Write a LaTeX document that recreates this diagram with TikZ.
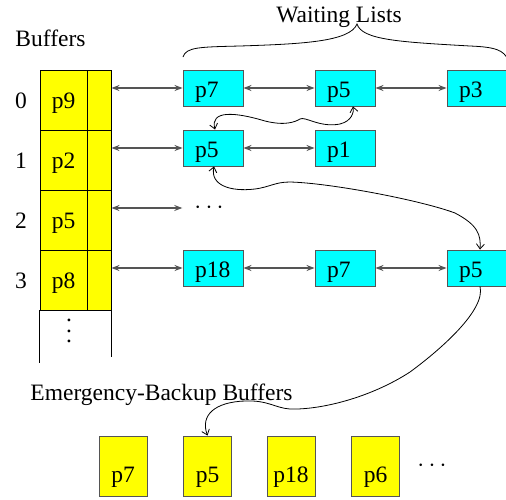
\documentclass[tikz,border=0pt]{standalone}
\usepackage{fontspec}
\setmainfont{Liberation Serif}
\usepackage{tikz}
\usetikzlibrary{arrows.meta, positioning}
\definecolor{rim}{HTML}{555555}
\definecolor{aqua}{HTML}{00FFFF}
\definecolor{lemon}{HTML}{FFFF00}
\newcommand\tallvdots{\vbox{\baselineskip=10.5pt \lineskiplimit=0pt \hbox{.}\hbox{.}\hbox{.}}}
\tikzset{
    slot/.style={rectangle, draw=black, fill=lemon, line width=0.9pt, minimum height=60pt, inner sep=0pt, text height=21pt, text depth=5pt},
    page/.style={rectangle, draw=rim, fill=aqua, line width=0.9pt, minimum height=36pt, text width=36pt, inner xsep=12pt, inner ysep=0pt, align=left, text height=23pt, text depth=5pt},
    spare/.style={rectangle, draw=rim, fill=lemon, line width=0.9pt, minimum width=48pt, minimum height=60pt, inner sep=0pt, text height=37pt, text depth=5pt},
    idx/.style={inner sep=0pt, text height=21pt, text depth=5pt},
    link/.style={{Stealth[length=8pt, width=6pt]}-{Stealth[length=8pt, width=6pt]}, line width=1.2pt, draw=rim},
    hop/.style={>={Straight Barb[length=5pt, width=8pt]}, line width=0.8pt},
}

\begin{document}
\begin{tikzpicture}[x=1pt, y=-1pt, font=\fontsize{23.5}{28}\selectfont]
    \useasboundingbox (0,0) rectangle (506,499);
    % buffer table
    \node at (50.5,38) {Buffers};
    \node[slot, minimum width=47pt] (b0) at (63.5,100) {p9};
    \node[slot, minimum width=47pt] (b1) at (63.5,160) {p2};
    \node[slot, minimum width=47pt] (b2) at (63.5,220) {p5};
    \node[slot, minimum width=47pt] (b3) at (63.5,280) {p8};
    \node[slot, minimum width=24pt] (b0r) at (99,100) {};
    \node[slot, minimum width=24pt] (b1r) at (99,160) {};
    \node[slot, minimum width=24pt] (b2r) at (99,220) {};
    \node[slot, minimum width=24pt] (b3r) at (99,280) {};
    \draw[line width=0.9pt] (b3.south west) -- ++(0,53);
    \draw[line width=0.9pt] (b3r.south east) -- ++(0,47);
    \node[inner sep=0pt] (more) at (69,331) {\tallvdots};
    \node[idx] (n0) at (21,100) {0};
    \node[idx] (n1) at (21,160) {1};
    \node[idx] (n2) at (21,220) {2};
    \node[idx] (n3) at (21,280) {3};
    % waiting lists
    \node[anchor=base] (wl) at (339,22) {Waiting Lists};
    \draw[line width=0.8pt] (183,57) .. controls (186,47) and (200,47) .. (240,46) .. controls (300,44) and (350,42) .. (357,24) .. controls (362,40) and (400,42) .. (470,46) .. controls (495,47) and (504,50) .. (508,60);
    \node[page] (w00) at (213,88) {p7};
    \node[page] (w01) at (345,88) {p5};
    \node[page] (w02) at (477,88) {p3};
    \node[page] (w10) at (213,148) {p5};
    \node[page] (w11) at (345,148) {p1};
    \node[inner sep=0pt, text height=11.8pt, text depth=0pt] (d2) at (209,208) {$\cdots$};
    \node[page] (w30) at (213,268) {p18};
    \node[page] (w31) at (345,268) {p7};
    \node[page] (w32) at (477,268) {p5};
    \draw[link] (b0r.east |- w00) -- (w00);
    \draw[link] (w00) -- (w01);
    \draw[link] (w01) -- (w02);
    \draw[link] (b1r.east |- w10) -- (w10);
    \draw[link] (w10) -- (w11);
    \draw[link, shorten >=12pt] (b2r.east |- d2) -- (d2.west);
    \draw[link] (b3r.east |- w30) -- (w30);
    \draw[link] (w30) -- (w31);
    \draw[link] (w31) -- (w32);
    % emergency-backup buffers
    \node[anchor=base] (eb) at (161.5,400) {Emergency-Backup Buffers};
    \node[spare] (e0) at (123,466) {p7};
    \node[spare] (e1) at (207.5,466) {p5};
    \node[spare] (e2) at (291,466) {p18};
    \node[spare] (e3) at (375.5,466) {p6};
    \node[inner sep=0pt, text height=11.8pt, text depth=0pt] (e4) at (432,466) {$\cdots$};
    % same page in several lists
    \draw[hop, <->] ([xshift=2pt]w10.north) .. controls (210,110) and (235,112) .. (265,121) .. controls (285,126) and (295,122) .. (300,119) .. controls (305,116) and (320,128) .. (340,124) .. controls (352,121) and (354,112) .. ([xshift=8pt]w01.south);
    \draw[hop, <->] ([xshift=1pt]w10.south) .. controls (210,185) and (230,192) .. (255,189) .. controls (270,187) and (275,182) .. (290,182) .. controls (330,183) and (420,200) .. (455,213) .. controls (478,225) and (481,235) .. ([xshift=3pt]w32.north);
    \draw[hop, ->] ([xshift=3pt]w32.south) .. controls (486,310) and (440,350) .. (410,372) .. controls (370,398) and (320,410) .. (290,409) .. controls (275,408) and (268,400) .. (245,401) .. controls (215,402) and (200,415) .. (e1.north);
\end{tikzpicture}
\end{document}
